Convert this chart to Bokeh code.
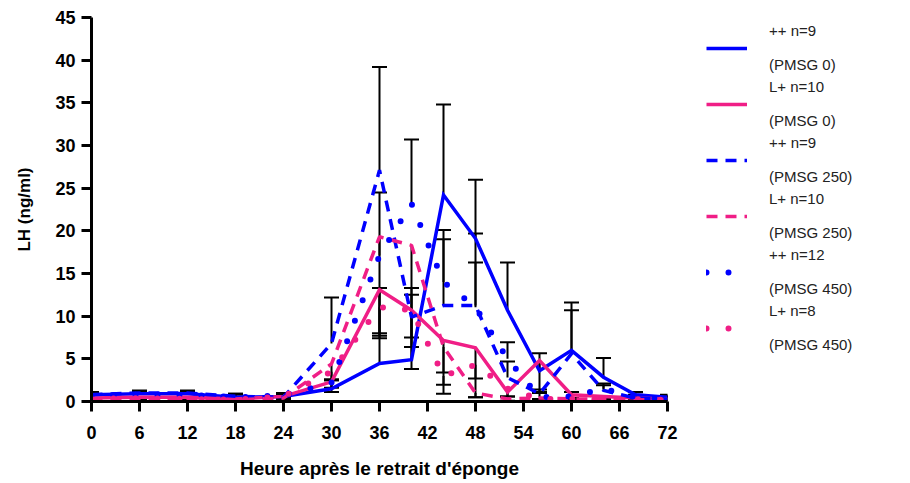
from bokeh.plotting import figure
from bokeh.models import (ColumnDataSource, Range1d, FixedTicker, Whisker, TeeHead,
                          Legend, LegendItem)
from bokeh.embed import file_html
from bokeh.resources import INLINE

# ---------------- data ----------------
hours = [0, 6, 12, 18, 24, 30, 36, 40, 44, 48, 52, 56, 60, 64, 68, 72]

pp_0 = [0.8, 0.9, 0.9, 0.5, 0.6, 1.5, 4.45, 4.9, 24.2, 19.1, 10.7, 3.6, 6.0, 2.85, 0.8, 0.5]
pp_0_sem = [0.3, 0.3, 0.3, 0.4, 0.3, 1.0, 8.85, 7.6, 10.6, 6.9, 5.6, 2.05, 5.6, 2.25, 0.3, 0.3]

lp_0 = [0.4, 0.5, 0.5, 0.3, 0.6, 2.3, 13.1, 10.7, 7.15, 6.3, 1.1, 4.8, 0.8, 0.6, 0.4, 0.3]
lp_0_sem = [0.2, 0.3, 0.3, 0.2, 0.2, 1.2, 5.4, 4.3, 6.25, 3.6, 0.5, 3.8, 0.4, 0.3, 0.2, 0.1]

pp_250 = [0.8, 1.0, 1.0, 0.6, 0.5, 6.8, 27.1, 9.9, 11.25, 11.25, 2.8, 0.9, 5.6, 1.3, 0.4, 0.3]
pp_250_sem = [0.3, 0.3, 0.3, 0.3, 0.3, 5.4, 12.1, 3.4, 8.85, 5.05, 1.9, 0.5, 5.1, 0.8, 0.3, 0.3]

lp_250 = [0.3, 0.3, 0.3, 0.2, 0.4, 4.4, 19.3, 18.3, 6.4, 1.0, 0.3, 0.4, 0.3, 0.3, 0.2, 0.2]
lp_250_sem = [0.1, 0.1, 0.1, 0.1, 0.1, 2.8, 11.3, 14.5, 3.0, 0.5, 0.2, 0.1, 0.1, 0.1, 0.1, 0.1]

pp_450 = [0.7, 0.8, 0.8, 0.5, 0.7, 2.2, 17.1, 23.2, 14.0, 11.05, 5.0, 0.5, 0.6, 1.5, 0.5, 0.3]
pp_450_sem = [0.3, 0.3, 0.3, 0.3, 0.3, 0.4, 7.4, 7.5, 5.0, 8.65, 1.95, 0.6, 0.5, 0.4, 0.3, 0.3]

lp_450 = [0.3, 0.4, 0.3, 0.2, 0.6, 3.5, 11.05, 10.7, 3.0, 4.3, 1.5, 0.3, 0.3, 0.2, 0.2, 0.2]
lp_450_sem = [0.1, 0.2, 0.1, 0.1, 0.3, 1.0, 3.65, 3.2, 1.05, 3.8, 0.9, 0.1, 0.1, 0.1, 0.1, 0.1]

groups = ["++ n=9", "L+ n=10", "++ n=9", "L+ n=10", "++ n=12", "L+ n=8"]
doses = ["(PMSG 0)", "(PMSG 0)", "(PMSG 250)", "(PMSG 250)", "(PMSG 450)", "(PMSG 450)"]

x_ticks = list(range(0, 73, 6))
y_ticks = list(range(0, 46, 5))

BLUE = "#0000FF"
PINK = "#F01E86"
FONT = "Liberation Sans"

series = [
    (pp_0, pp_0_sem, BLUE, "solid", "up"),
    (lp_0, lp_0_sem, PINK, "solid", "down"),
    (pp_250, pp_250_sem, BLUE, "dashed", "up"),
    (lp_250, lp_250_sem, PINK, "dashed", "down"),
    (pp_450, pp_450_sem, BLUE, "dotted", "up"),
    (lp_450, lp_450_sem, PINK, "dotted", "down"),
]

p = figure(frame_width=576, frame_height=384, output_backend="svg", toolbar_location=None,
           x_range=Range1d(0, 72), y_range=Range1d(0, 45),
           min_border_left=91, min_border_top=17, min_border_bottom=80, min_border_right=236)
p.outline_line_color = None
p.xgrid.visible = False
p.ygrid.visible = False
p.background_fill_color = "white"

# error bars (++ groups upward, L+ groups downward)
for vals, sem, col, style, direction in series:
    if direction == "up":
        lo = list(vals)
        up = [v + s for v, s in zip(vals, sem)]
        src = ColumnDataSource(dict(t=hours, lo=lo, up=up))
        w = Whisker(source=src, base="t", lower="lo", upper="up",
                    upper_head=TeeHead(size=15, line_width=2, line_color="black"),
                    lower_head=None, line_width=2, line_color="black")
    else:
        up = list(vals)
        lo = [v - s for v, s in zip(vals, sem)]
        src = ColumnDataSource(dict(t=hours, lo=lo, up=up))
        w = Whisker(source=src, base="t", lower="lo", upper="up",
                    lower_head=TeeHead(size=15, line_width=2, line_color="black"),
                    upper_head=None, line_width=2, line_color="black")
    p.add_layout(w)

items = []
for (vals, sem, col, style, direction), g, d in zip(series, groups, doses):
    if style == "solid":
        r = p.line(hours, vals, line_color=col, line_width=3.5, line_join="miter")
    elif style == "dashed":
        r = p.line(hours, vals, line_color=col, line_width=3.5, line_dash="11 8")
    else:
        r = p.line(hours, vals, line_color=col, line_width=6, line_dash="0 22",
                   line_cap="round")
    items.append(LegendItem(label=g + "\n\n" + d, renderers=[r]))

legend = Legend(items=items, location=(39, 48), orientation="vertical")
legend.glyph_width = 41
legend.glyph_height = 20
legend.label_standoff = 22
legend.spacing = 5
legend.padding = 0
legend.margin = 0
legend.border_line_color = None
legend.background_fill_alpha = 0
legend.label_text_font = FONT
legend.label_text_font_size = "15px"
legend.label_text_color = "#222222"
p.add_layout(legend, "right")

# axes
for ax in (p.xaxis[0], p.yaxis[0]):
    ax.axis_line_width = 3
    ax.axis_line_color = "black"
    ax.major_tick_line_width = 3
    ax.major_tick_line_color = "black"
    ax.major_tick_out = 10
    ax.major_tick_in = 0
    ax.minor_tick_out = 0
    ax.minor_tick_in = 0
    ax.major_label_text_font = FONT
    ax.major_label_text_font_style = "bold"
    ax.major_label_text_font_size = "18px"
    ax.major_label_text_color = "black"
    ax.axis_label_text_font = FONT
    ax.axis_label_text_font_style = "bold"
    ax.axis_label_text_color = "black"

p.xaxis[0].ticker = FixedTicker(ticks=x_ticks)
p.yaxis[0].ticker = FixedTicker(ticks=y_ticks)
p.xaxis[0].axis_label = "Heure après le retrait d'éponge"
p.xaxis[0].axis_label_text_font_size = "19px"
p.xaxis[0].major_label_standoff = 14
p.xaxis[0].axis_label_standoff = 16
p.yaxis[0].axis_label = "LH (ng/ml)"
p.yaxis[0].axis_label_text_font_size = "17px"
p.yaxis[0].major_label_standoff = 6
p.yaxis[0].axis_label_standoff = 18

open("out.html", "w").write(file_html(p, INLINE))
